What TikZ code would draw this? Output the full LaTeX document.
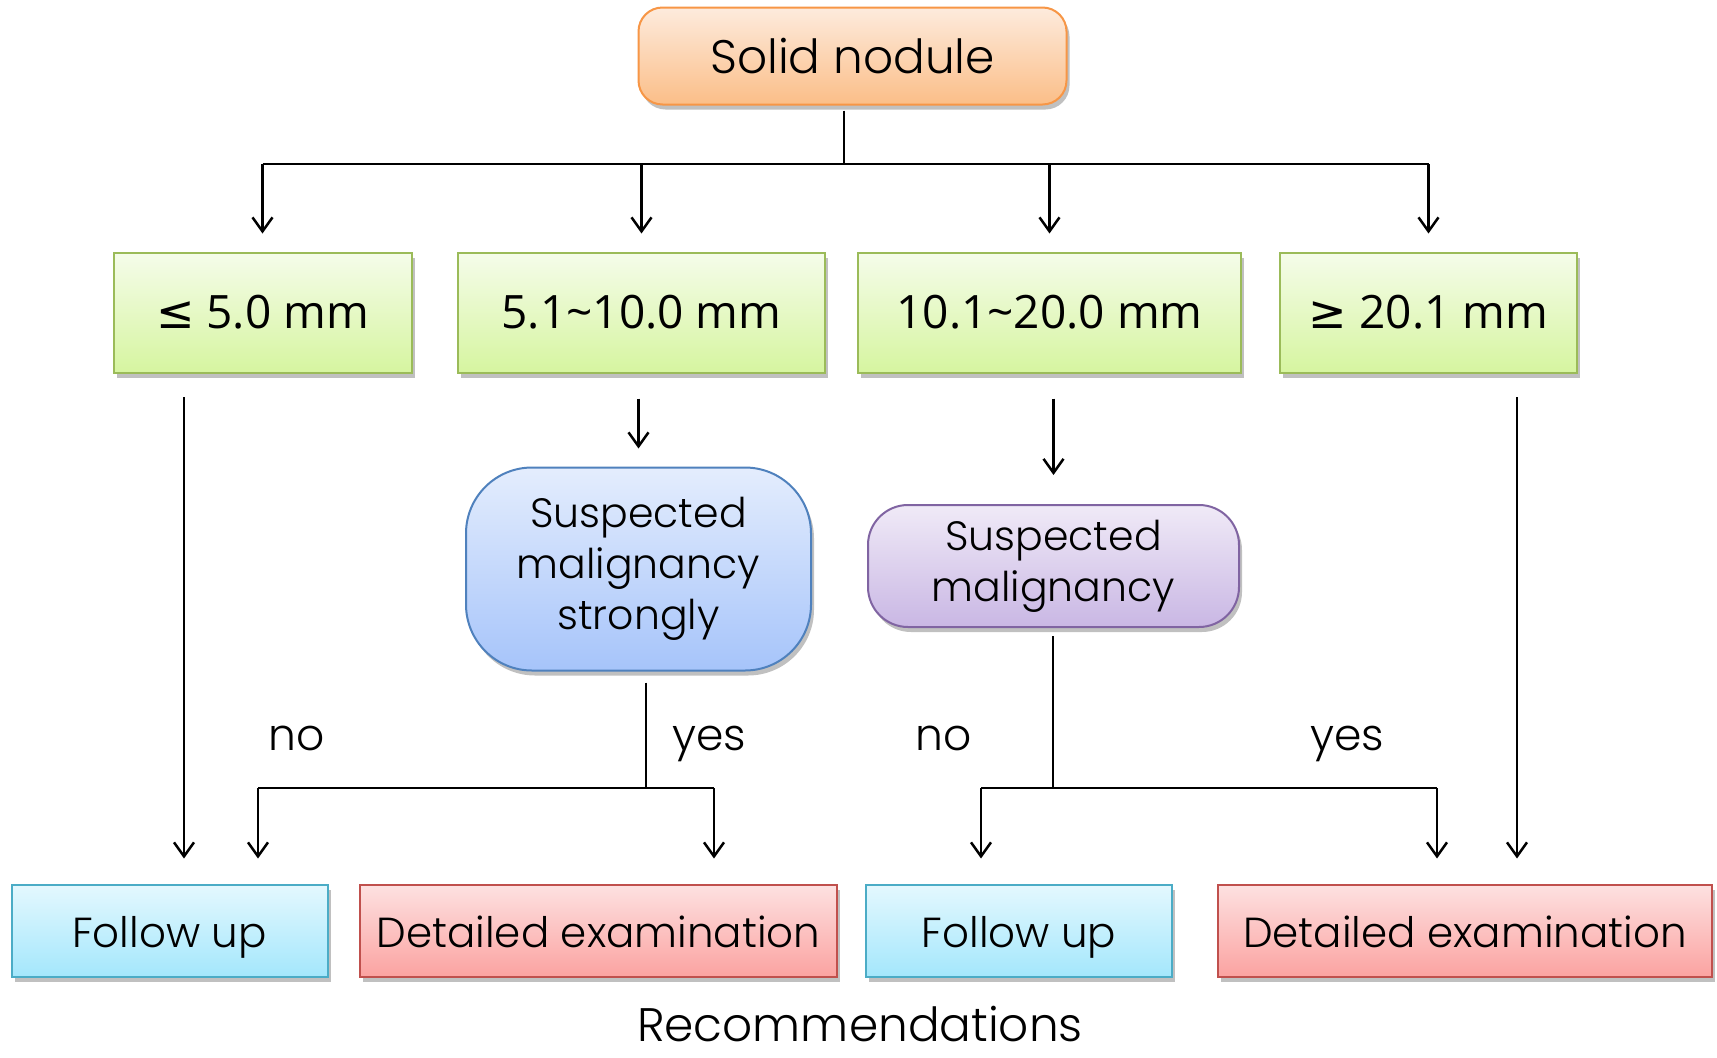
\documentclass[tikz,border=0pt]{standalone}
\usepackage{fontspec}
\setmainfont{Poppins}[UprightFont={* Light}]
\newfontfamily\grfont{Open Sans}
\newfontfamily\symfont{DejaVu Sans}
\usetikzlibrary{arrows.meta,shadows}
\definecolor{orT}{HTML}{FDEBDD}\definecolor{orB}{HTML}{FBBE88}\definecolor{orD}{HTML}{F79646}
\definecolor{grT}{HTML}{F5FCEA}\definecolor{grB}{HTML}{D6F5A0}\definecolor{grD}{HTML}{9BBB59}
\definecolor{blT}{HTML}{E4EDFD}\definecolor{blB}{HTML}{A6C4FA}\definecolor{blD}{HTML}{4F81BD}
\definecolor{puT}{HTML}{F0EAF7}\definecolor{puB}{HTML}{C9B7E4}\definecolor{puD}{HTML}{8064A2}
\definecolor{cyT}{HTML}{E4F8FE}\definecolor{cyB}{HTML}{A4E7FC}\definecolor{cyD}{HTML}{4BACC6}
\definecolor{rdT}{HTML}{FDE1E1}\definecolor{rdB}{HTML}{FBA3A1}\definecolor{rdD}{HTML}{C0504D}
\begin{document}
\begin{tikzpicture}[x=1pt,y=-1pt,
  box/.style={draw, line width=2pt, inner sep=0pt, align=center,
    drop shadow={shadow xshift=3pt, shadow yshift=-5pt, opacity=0.35, fill=black!70}},
  topbox/.style={box, draw=orD, top color=orT, bottom color=orB, rounded corners=24pt,
    minimum width=428pt, minimum height=97pt, font=\fontsize{47}{52}\selectfont},
  sizebox/.style={box, draw=grD, top color=grT, bottom color=grB,
    minimum height=120pt, font=\grfont\fontsize{46}{50}\selectfont},
  bluebox/.style={box, draw=blD, top color=blT, bottom color=blB, rounded corners=66pt,
    minimum width=345pt, minimum height=203pt, font=\fontsize{41}{51}\selectfont},
  purbox/.style={box, draw=puD, top color=puT, bottom color=puB, rounded corners=40pt,
    minimum width=371pt, minimum height=122pt, font=\fontsize{41}{51}\selectfont},
  botbox/.style={box, minimum height=92pt, text height=33pt, text depth=0pt,
    font=\fontsize{42}{46}\selectfont},
  fupbox/.style={botbox, draw=cyD, top color=cyT, bottom color=cyB},
  detbox/.style={botbox, draw=rdD, top color=rdT, bottom color=rdB},
  conn/.style={line width=2.5pt, black},
  arr/.style={conn, -{Straight Barb[length=14pt,width=20pt]}},
  lbl/.style={anchor=base, inner sep=0pt, font=\fontsize{44}{50}\selectfont}]
\useasboundingbox (0,0) rectangle (1717,1058);
\fill[white] (0,0) rectangle (1717,1058);

% nodes
\node[topbox] (top) at (852.5,56) {Solid nodule};
\node[sizebox, minimum width=298pt] (g1) at (262.5,312.5) {{\symfont ≤} 5.0 mm};
\node[sizebox, minimum width=367pt] (g2) at (641.5,312.5) {5.1\textasciitilde 10.0 mm};
\node[sizebox, minimum width=383pt] (g3) at (1049.5,312.5) {10.1\textasciitilde 20.0 mm};
\node[sizebox, minimum width=297pt] (g4) at (1428.5,312.5) {{\symfont ≥} 20.1 mm};
\node[bluebox] (blue) at (638.5,569) {Suspected\\malignancy\\strongly};
\node[purbox] (pur) at (1053.5,566) {Suspected\\malignancy};
\node[fupbox, minimum width=316pt] (f1) at (169.5,930.5) {Follow up};
\node[detbox, minimum width=477pt] (d1) at (598.5,930.5) {Detailed examination};
\node[fupbox, minimum width=306pt] (f2) at (1019,930.5) {Follow up};
\node[detbox, minimum width=494pt] (d2) at (1465,930.5) {Detailed examination};

\node[lbl] (no1) at (297,750) {no};
\node[lbl] (yes1) at (709,750) {yes};
\node[lbl] (no2) at (944,750) {no};
\node[lbl] (yes2) at (1347,750) {yes};
\node[anchor=base, inner sep=0pt, font=\fontsize{47}{52}\selectfont] (rec) at (860,1041) {Recommendations};

% top branching
\coordinate (j0) at (844,164);
\draw[conn, shorten <=5pt] (top.south -| j0) -- (j0);
\draw[conn] (g1.north |- j0) -- (g4.north |- j0);
\foreach \g in {g1,g2,g3,g4}
  \draw[arr, shorten >=18pt] (\g.north |- j0) -- (\g.north);

% long arrows
\coordinate (a1) at (184,397);
\draw[arr, shorten >=25pt] (a1) -- (f1.north -| a1);
\coordinate (a4) at (1517,397);
\draw[arr, shorten >=25pt] (a4) -- (d2.north -| a4);

% to the questions
\draw[arr, shorten <=25pt, shorten >=18pt] (blue.north |- g2.south) -- (blue.north);
\draw[arr, shorten <=25pt, shorten >=29pt] (pur.north |- g3.south) -- (pur.north);

% blue decision
\coordinate (j1) at (646,788);
\coordinate (b1l) at (258,788);
\coordinate (b1r) at (714,788);
\draw[conn, shorten <=11pt] (blue.south -| j1) -- (j1);
\draw[conn] (b1l) -- (b1r);
\draw[arr, shorten >=25pt] (b1l) -- (f1.north -| b1l);
\draw[arr, shorten >=25pt] (b1r) -- (d1.north -| b1r);

% purple decision
\coordinate (j2) at (1053,788);
\coordinate (b2l) at (981,788);
\coordinate (b2r) at (1437,788);
\draw[conn, shorten <=8pt] (pur.south -| j2) -- (j2);
\draw[conn] (b2l) -- (b2r);
\draw[arr, shorten >=25pt] (b2l) -- (f2.north -| b2l);
\draw[arr, shorten >=25pt] (b2r) -- (d2.north -| b2r);
\end{tikzpicture}
\end{document}
